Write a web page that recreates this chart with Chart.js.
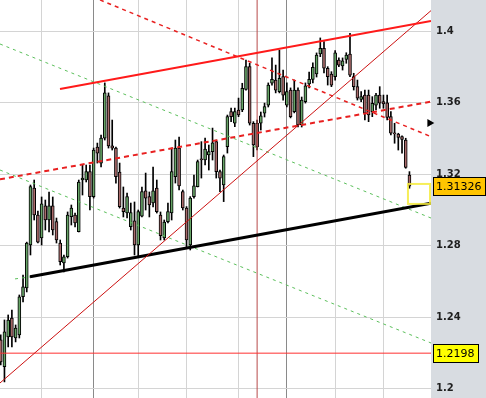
<!DOCTYPE html>
<html>
<head>
<meta charset="utf-8">
<script src="https://cdn.jsdelivr.net/npm/chart.js@4.4.0/dist/chart.umd.min.js"></script>
<style>
  html, body { margin: 0; padding: 0; background: #fff; }
  canvas { display: block; }
</style>
</head>
<body>
<canvas id="c-chart" width="486" height="398"></canvas>
<script>
// candles, one per bar index
var opens = [
  1.2272, 1.2122, 1.2289, 1.2395, 1.2283, 1.2300, 1.2514, 1.2563, 1.2804, 1.3123,
  1.2972, 1.2843, 1.3024, 1.2944, 1.3024, 1.2935, 1.2815, 1.2703, 1.2738, 1.2962,
  1.2972, 1.2878, 1.3168, 1.3168, 1.3215, 1.3075, 1.3353, 1.3263, 1.3403, 1.3639,
  1.3359, 1.3347, 1.3213, 1.3011, 1.2983, 1.2906, 1.2940, 1.2804, 1.2966, 1.3108,
  1.3075, 1.3039, 1.3123, 1.2972, 1.2843, 1.2935, 1.2983, 1.3187, 1.3347, 1.3103,
  1.3011, 1.2804, 1.3075, 1.3131, 1.3286, 1.3280, 1.3308, 1.3327, 1.3383, 1.3215,
  1.3140, 1.3355, 1.3551, 1.3487, 1.3560, 1.3560, 1.3676, 1.3803, 1.3486, 1.3486,
  1.3487, 1.3542, 1.3588, 1.3710, 1.3728, 1.3663, 1.3747, 1.3588, 1.3672, 1.3551,
  1.3672, 1.3476, 1.3607, 1.3706, 1.3732, 1.3762, 1.3874, 1.3906, 1.3794, 1.3762,
  1.3747, 1.3840, 1.3807, 1.3844, 1.3874, 1.3747, 1.3691, 1.3620, 1.3644, 1.3644,
  1.3551, 1.3588, 1.3644, 1.3607, 1.3601, 1.3523, 1.3433, 1.3426, 1.3411, 1.3392,
  1.3196
];
var highs = [
  1.2300, 1.2384, 1.2412, 1.2440, 1.2356, 1.2524, 1.2636, 1.2820, 1.3140, 1.3168,
  1.2994, 1.3073, 1.3056, 1.3101, 1.3073, 1.2955, 1.2832, 1.2748, 1.2989, 1.3028,
  1.2983, 1.3168, 1.3252, 1.3252, 1.3252, 1.3347, 1.3375, 1.3420, 1.3712, 1.3656,
  1.3504, 1.3353, 1.3263, 1.3129, 1.3095, 1.3039, 1.3045, 1.3000, 1.3129, 1.3207,
  1.3101, 1.3241, 1.3168, 1.2989, 1.2944, 1.3039, 1.3347, 1.3392, 1.3409, 1.3112,
  1.3019, 1.3075, 1.3196, 1.3280, 1.3383, 1.3403, 1.3364, 1.3459, 1.3392, 1.3224,
  1.3308, 1.3532, 1.3571, 1.3571, 1.3627, 1.3710, 1.3840, 1.3822, 1.3495, 1.3504,
  1.3549, 1.3599, 1.3712, 1.3852, 1.3812, 1.3896, 1.3784, 1.3712, 1.3684, 1.3728,
  1.3684, 1.3633, 1.3712, 1.3773, 1.3824, 1.3880, 1.3964, 1.3943, 1.3803, 1.3775,
  1.3893, 1.3852, 1.3852, 1.3881, 1.3990, 1.3766, 1.3728, 1.3663, 1.3672, 1.3672,
  1.3635, 1.3654, 1.3691, 1.3644, 1.3644, 1.3551, 1.3486, 1.3430, 1.3415, 1.3402,
  1.3215
];
var lows = [
  1.2132, 1.2037, 1.2233, 1.2233, 1.2261, 1.2283, 1.2485, 1.2541, 1.2748, 1.2944,
  1.2815, 1.2804, 1.2888, 1.2877, 1.2860, 1.2815, 1.2692, 1.2653, 1.2731, 1.2916,
  1.2905, 1.2877, 1.3084, 1.3157, 1.3000, 1.3067, 1.3263, 1.3241, 1.3392, 1.3347,
  1.3336, 1.3151, 1.3011, 1.2961, 1.2955, 1.2888, 1.2748, 1.2738, 1.2961, 1.3000,
  1.2961, 1.3017, 1.2983, 1.2832, 1.2832, 1.2927, 1.2944, 1.3151, 1.3112, 1.3000,
  1.2794, 1.2776, 1.3067, 1.3129, 1.3179, 1.3252, 1.3224, 1.3280, 1.3179, 1.3103,
  1.3047, 1.3319, 1.3495, 1.3467, 1.3523, 1.3551, 1.3672, 1.3476, 1.3299, 1.3336,
  1.3448, 1.3521, 1.3577, 1.3700, 1.3656, 1.3656, 1.3616, 1.3577, 1.3516, 1.3544,
  1.3465, 1.3465, 1.3599, 1.3684, 1.3712, 1.3745, 1.3859, 1.3768, 1.3700, 1.3691,
  1.3728, 1.3803, 1.3784, 1.3822, 1.3747, 1.3672, 1.3616, 1.3607, 1.3504, 1.3495,
  1.3523, 1.3560, 1.3570, 1.3570, 1.3504, 1.3420, 1.3374, 1.3336, 1.3319, 1.3234,
  1.3122
];
var closes = [
  1.2149, 1.2318, 1.2384, 1.2289, 1.2339, 1.2514, 1.2570, 1.2815, 1.3131, 1.2972,
  1.2820, 1.3034, 1.2944, 1.3024, 1.2888, 1.2832, 1.2710, 1.2738, 1.2972, 1.3011,
  1.2927, 1.3157, 1.3179, 1.3215, 1.3075, 1.3336, 1.3319, 1.3403, 1.3656, 1.3359,
  1.3347, 1.3187, 1.3019, 1.2991, 1.3075, 1.2985, 1.2804, 1.2991, 1.3103, 1.3067,
  1.3028, 1.3108, 1.2991, 1.2856, 1.2933, 1.2991, 1.3215, 1.3347, 1.3135, 1.3011,
  1.2832, 1.3067, 1.3135, 1.3271, 1.3280, 1.3342, 1.3327, 1.3377, 1.3215, 1.3179,
  1.3299, 1.3523, 1.3523, 1.3551, 1.3532, 1.3682, 1.3803, 1.3486, 1.3364, 1.3353,
  1.3527, 1.3579, 1.3700, 1.3732, 1.3672, 1.3738, 1.3644, 1.3663, 1.3523, 1.3672,
  1.3476, 1.3616, 1.3695, 1.3732, 1.3799, 1.3868, 1.3906, 1.3794, 1.3747, 1.3700,
  1.3881, 1.3812, 1.3836, 1.3868, 1.3756, 1.3691, 1.3626, 1.3635, 1.3542, 1.3532,
  1.3598, 1.3644, 1.3598, 1.3594, 1.3519, 1.3430, 1.3426, 1.3407, 1.3396, 1.3239,
  1.3133
];

// price axis
var tickValues = [1.2, 1.24, 1.28, 1.32, 1.36, 1.4];
var yRange = [1.19468, 1.41765];
var xRange = [-0.2, 115.8];

// vertical separators (bar index)
var gridIdx = [11, 25, 37, 50, 64, 77, 90, 103];
var darkIdx = [25, 77];
var redIdx = 69;

// levels
var levelPrice = 1.2198;
var lastPrice = 1.31326;
var markerPrice = 1.3487;
var boxIdx = [109.6, 115.8];
var boxPrice = [1.3034, 1.3146];

// trend lines: [index0, price0, index1, price1]
var upperChannel = [15.95, 1.3678, 115.8, 1.4059];
var steepLine    = [-0.2, 1.2031, 115.8, 1.4117];
var supportLine  = [7.87, 1.2626, 115.8, 1.3038];
var redDashDown  = [26.71, 1.4177, 115.8, 1.3411];
var redDashUp    = [-0.2, 1.3172, 115.8, 1.3607];
var greenUpper   = [-0.2, 1.3930, 115.8, 1.2955];
var greenLower   = [-0.2, 1.3224, 115.8, 1.2255];
var greenStub    = [3.84, 1.2614, 7.87, 1.2625];

var upColor = '#66a366';
var downColor = '#a86a6a';

function seg(p, color, width, dash) {
    return {
        type: 'line',
        data: [{x: p[0], y: p[1]}, {x: p[2], y: p[3]}],
        borderColor: color,
        borderWidth: width,
        borderDash: dash || [],
        pointRadius: 0,
        fill: false,
        order: 0
    };
}

var bodies = [];
var wicks = [];
var bodyColors = [];
for (var i = 0; i < opens.length; i++) {
    bodies.push({x: i, y: [opens[i], closes[i]]});
    wicks.push({x: i, y: [lows[i], highs[i]]});
    bodyColors.push(closes[i] >= opens[i] ? upColor : downColor);
}

// panel, price boxes and the yellow frame
var decorations = {
    id: 'decorations',
    beforeDraw: function(chart) {
        var c = chart.ctx, a = chart.chartArea;
        c.save();
        c.fillStyle = '#ffffff';
        c.fillRect(0, 0, chart.width, chart.height);
        c.fillStyle = '#d8dce1';
        c.fillRect(a.right, 0, chart.width - a.right, chart.height);
        c.restore();
    },
    afterDatasetsDraw: function(chart) {
        var c = chart.ctx, xs = chart.scales.x, ys = chart.scales.y;
        var x0 = xs.getPixelForValue(boxIdx[0]), x1 = xs.getPixelForValue(boxIdx[1]);
        var y0 = ys.getPixelForValue(boxPrice[1]), y1 = ys.getPixelForValue(boxPrice[0]);
        c.save();
        c.strokeStyle = 'rgba(245,235,60,0.85)';
        c.lineWidth = 2;
        c.strokeRect(x0, y0, x1 - x0 - 1, y1 - y0);
        c.restore();
    },
    afterDraw: function(chart) {
        var c = chart.ctx, a = chart.chartArea, ys = chart.scales.y;
        var labels = [
            [lastPrice, lastPrice.toFixed(5), '#ffc400'],
            [levelPrice, levelPrice.toFixed(4), '#ffff00']
        ];
        c.save();
        c.font = '11px "DejaVu Sans"';
        c.textBaseline = 'middle';
        c.textAlign = 'left';
        labels.forEach(function(l) {
            var y = Math.round(ys.getPixelForValue(l[0]));
            var w = Math.ceil(c.measureText(l[1]).width) + 6;
            var bx = a.right + 2;
            c.fillStyle = l[2];
            c.fillRect(bx, y - 9, w, 18);
            c.strokeStyle = '#000';
            c.lineWidth = 1;
            c.strokeRect(bx + 0.5, y - 8.5, w, 18);
            c.fillStyle = '#000';
            c.fillText(l[1], bx + 3, y + 1);
        });
        c.restore();
    }
};

new Chart(document.getElementById('c-chart'), {
    type: 'bar',
    data: {
        datasets: [
            seg(upperChannel, '#ff1a1a', 2),
            seg(steepLine, '#cc1010', 1),
            seg(supportLine, '#000000', 3),
            seg(redDashDown, '#e82020', 1.5, [4, 4]),
            seg(redDashUp, '#e82020', 2, [5, 4]),
            seg(greenUpper, '#5cc05c', 1, [3, 4]),
            seg(greenLower, '#5cc05c', 1, [3, 4]),
            seg(greenStub, '#5cc05c', 1, [3, 4]),
            seg([xRange[0], levelPrice, xRange[1], levelPrice], '#ff3030', 1),
            seg([redIdx, yRange[0], redIdx, yRange[1]], '#b84a4a', 1),
            {
                type: 'line',
                data: [{x: 115.45, y: markerPrice}],
                showLine: false,
                pointStyle: 'triangle',
                rotation: 90,
                pointRadius: 4.6,
                backgroundColor: '#000',
                borderColor: '#000',
                borderWidth: 0,
                clip: false,
                order: 0
            },
            {
                label: 'bodies',
                data: bodies,
                backgroundColor: bodyColors,
                borderColor: '#000',
                borderWidth: 1,
                borderSkipped: false,
                barThickness: 3,
                grouped: false,
                order: 1
            },
            {
                label: 'wicks',
                data: wicks,
                backgroundColor: '#000',
                borderWidth: 0,
                barThickness: 1,
                grouped: false,
                order: 2
            }
        ]
    },
    options: {
        responsive: false,
        animation: false,
        events: [],
        layout: { padding: 0, autoPadding: false },
        plugins: {
            legend: { display: false },
            tooltip: { enabled: false }
        },
        scales: {
            x: {
                type: 'linear',
                min: xRange[0],
                max: xRange[1],
                offset: false,
                ticks: { display: false },
                border: { display: false },
                grid: {
                    offset: false,
                    drawTicks: false,
                    color: function(ctx) {
                        return darkIdx.indexOf(ctx.tick && ctx.tick.value) >= 0 ? '#8a8a8a' : '#d4d4d4';
                    }
                },
                afterBuildTicks: function(s) {
                    s.ticks = gridIdx.map(function(v) { return {value: v}; });
                },
                afterFit: function(s) { s.height = 0; }
            },
            y: {
                type: 'linear',
                position: 'right',
                min: yRange[0],
                max: yRange[1],
                border: { display: false },
                grid: { drawTicks: false, color: '#d4d4d4' },
                ticks: {
                    padding: 5,
                    color: '#1e1e1e',
                    font: { family: 'DejaVu Sans', size: 10, weight: 'bold' },
                    callback: function(v) { return String(parseFloat(v.toFixed(2))); }
                },
                afterBuildTicks: function(s) {
                    s.ticks = tickValues.map(function(v) { return {value: v}; });
                },
                afterFit: function(s) {
                    s.width = 55;
                    s.paddingTop = 0;
                    s.paddingBottom = 0;
                }
            }
        }
    },
    plugins: [decorations]
});
</script>
</body>
</html>
